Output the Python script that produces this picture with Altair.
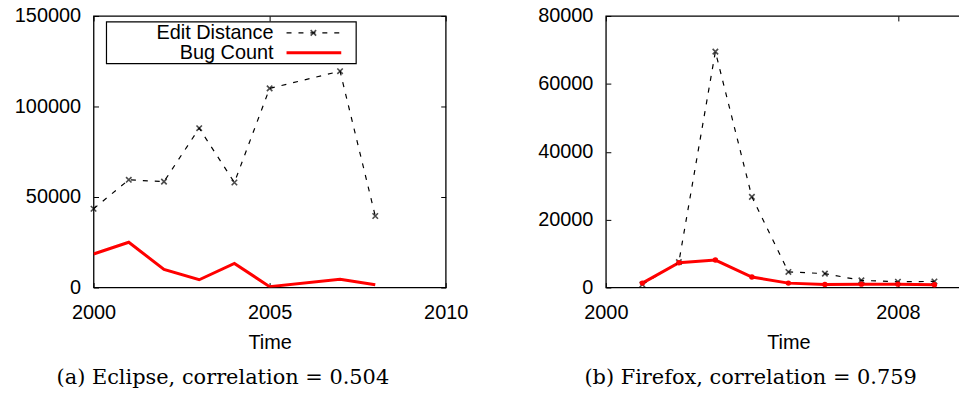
import altair as alt
import pandas as pd

series_names = ["Edit Distance", "Bug Count"]

eclipse_years = [2000, 2001, 2002, 2003, 2004, 2005, 2007, 2008]
eclipse_edit = [43500, 59500, 58500, 88000, 58000, 110000, 119500, 39500]
eclipse_bugs = [18500, 25000, 10000, 4300, 13300, 500, 4600, 1500]

firefox_years = [2001, 2002, 2003, 2004, 2005, 2006, 2007, 2008, 2009]
firefox_edit = [900, 7500, 69500, 26700, 4600, 4100, 2100, 1700, 1800]
firefox_bugs = [1300, 7300, 8100, 3100, 1300, 900, 1000, 1000, 800]

eclipse_xticks = [2000, 2005, 2010]
eclipse_yticks = [0, 50000, 100000, 150000]
firefox_xticks = [2000, 2008]
firefox_yticks = [0, 20000, 40000, 60000, 80000]

captions = ["(a) Eclipse, correlation = 0.504", "(b) Firefox, correlation = 0.759"]

SANS = "Liberation Sans"
SERIF = "DejaVu Serif"
RED = "#ff0000"
X_SHAPE = "M-1,-1L1,1M-1,1L1,-1"


def make_df(years, edit, bugs):
    rows = []
    for y, v in zip(years, edit):
        rows.append({"year": y, "value": v, "series": series_names[0]})
    for y, v in zip(years, bugs):
        rows.append({"year": y, "value": v, "series": series_names[1]})
    return pd.DataFrame(rows)


def key_layers():
    one = pd.DataFrame({"k": [0]})
    box = alt.Chart(one).mark_rect(fill="white", stroke="black", strokeWidth=1.2).encode(
        x=alt.value(13), x2=alt.value(264), y=alt.value(6), y2=alt.value(48))
    out = [box]
    for i, (name, col) in enumerate(zip(series_names, ["black", RED])):
        yy = 17 + 20 * i
        out.append(alt.Chart(one).mark_text(
            text=name, align="right", baseline="middle", font=SANS, fontSize=20,
            color="black").encode(x=alt.value(181), y=alt.value(yy)))
        if i == 0:
            out.append(alt.Chart(one).mark_rule(color=col, strokeWidth=1.2, strokeDash=[5, 7]).encode(
                x=alt.value(194), x2=alt.value(249), y=alt.value(yy)))
            out.append(alt.Chart(one).mark_point(shape=X_SHAPE, size=30, strokeWidth=1.6,
                                                 color="black", filled=False).encode(
                x=alt.value(221), y=alt.value(yy)))
        else:
            out.append(alt.Chart(one).mark_rule(color=col, strokeWidth=3).encode(
                x=alt.value(194), x2=alt.value(249), y=alt.value(yy)))
    return out


def panel(df, xticks, ymax, yticks, width, caption, dx, legend, bug_points):
    xs = alt.Scale(domain=[2000, 2010], nice=False, zero=False)
    ys = alt.Scale(domain=[0, ymax], nice=False)
    x_main = alt.X("year:Q", scale=xs,
                   axis=alt.Axis(values=xticks, format="d", title="Time", offset=-5,
                                 labelPadding=15))
    y_main = alt.Y("value:Q", scale=ys,
                   axis=alt.Axis(values=yticks, format="d", title=None, offset=-5))
    x = alt.X("year:Q", scale=xs, axis=None)
    y = alt.Y("value:Q", scale=ys, axis=None)
    mirror = alt.Chart(df).mark_point(opacity=0).encode(
        x=alt.X("year:Q", scale=xs,
                axis=alt.Axis(orient="top", values=xticks, labels=False, title=None, offset=-5)),
        y=alt.Y("value:Q", scale=ys,
                axis=alt.Axis(orient="right", values=yticks, labels=False, title=None, offset=-5)))
    edit_line = alt.Chart(df).transform_filter(
        alt.datum.series == series_names[0]
    ).mark_line(clip=True, color="black", strokeWidth=1.2, strokeDash=[5, 7]).encode(
        x=x_main, y=y_main, order=alt.Order("year:Q"))
    bug_line = alt.Chart(df).transform_filter(
        alt.datum.series == series_names[1]
    ).mark_line(clip=True, color=RED, strokeWidth=3).encode(
        x=x, y=y, order=alt.Order("year:Q"))
    edit_pts = alt.Chart(df).transform_filter(
        alt.datum.series == series_names[0]
    ).mark_point(shape=X_SHAPE, size=30, strokeWidth=1.6,
                 color="black", filled=False).encode(x=x, y=y)
    layers = [edit_line, mirror, bug_line, edit_pts]
    if bug_points:
        bug_pts = alt.Chart(df).transform_filter(
            alt.datum.series == series_names[1]
        ).mark_point(shape="circle", size=30, filled=True, color=RED, opacity=1).encode(x=x, y=y)
        layers.append(bug_pts)
    if legend:
        layers += key_layers()
    return alt.layer(*layers).resolve_axis(x="independent", y="independent").properties(
        width=width, height=273,
        title=alt.TitleParams(caption, orient="bottom", font=SERIF, fontSize=21,
                              fontWeight="normal", anchor="middle", frame="group",
                              dx=dx, offset=15, color="black"))


left = panel(make_df(eclipse_years, eclipse_edit, eclipse_bugs), eclipse_xticks, 150000,
             eclipse_yticks, 354, captions[0], -47, True, False)
right = panel(make_df(firefox_years, firefox_edit, firefox_bugs), firefox_xticks, 80000,
              firefox_yticks, 367, captions[1], -38, False, True)

chart = alt.hconcat(left, right, spacing=161, bounds="flush").properties(
    padding={"left": 5, "top": -4, "right": -14, "bottom": -2},
    background="white"
).configure_view(
    stroke="black", strokeWidth=1.3
).configure_axis(
    domain=False, ticks=True, tickSize=5, tickColor="black", tickWidth=1, grid=False,
    labelFlush=False,
    labelFont=SANS, labelFontSize=20, labelColor="black", labelPadding=13,
    titleFont=SANS, titleFontSize=20, titleFontWeight="normal", titleColor="black",
    titlePadding=10
)

chart.save("out.html", embed_options={"renderer": "svg", "actions": False})
